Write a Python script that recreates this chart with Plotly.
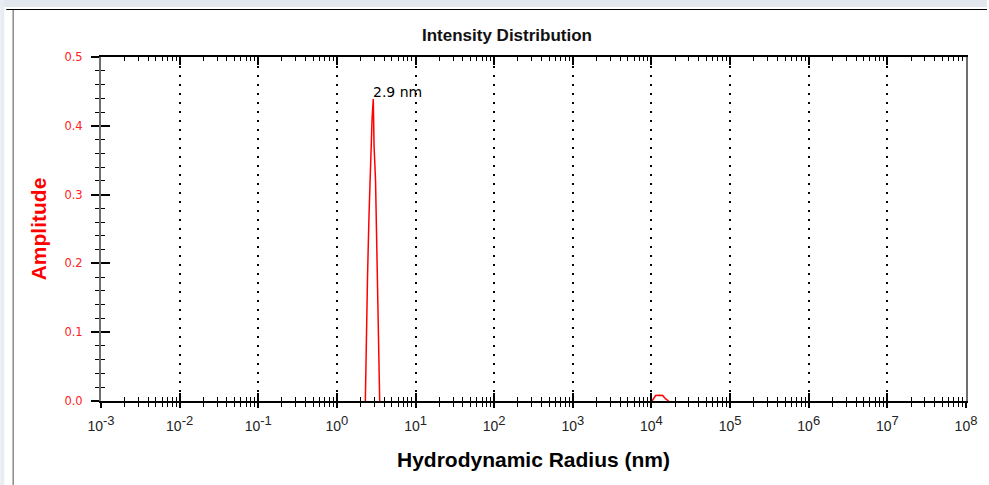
import math
import plotly.graph_objects as go

# ---- data ----
peak1_radius = [2.30, 2.34, 2.45, 2.56, 2.68, 2.80, 2.90, 2.97, 3.10, 3.22, 3.35, 3.50]
peak1_amp = [0.0, 0.06, 0.18, 0.27, 0.35, 0.41, 0.439, 0.37, 0.32, 0.22, 0.07, 0.0]
peak2_radius = [10180, 10700, 11300, 12530, 13890, 15160, 16550]
peak2_amp = [0.0, 0.004, 0.008, 0.0085, 0.008, 0.003, 0.0]
peak_label_radius = 2.90
peak_label_amp = 0.439
peak_label_text = "2.9 nm"
x_tick_exponents = [-3, -2, -1, 0, 1, 2, 3, 4, 5, 6, 7, 8]
y_ticks = [0.0, 0.1, 0.2, 0.3, 0.4, 0.5]

xs = peak1_radius + [None] + peak2_radius
ys = peak1_amp + [None] + peak2_amp
x_tickvals = [10.0 ** e for e in x_tick_exponents]
x_ticktext = ["10<sup><span style='font-size:13px'>%d</span></sup>" % e
              for e in x_tick_exponents]

FONT = "Liberation Sans, Arial, sans-serif"
WIDE = "DejaVu Sans, Verdana, sans-serif"
W, H = 989, 485
L, R, T, B = 101, 21, 57, 84
PW, PH = W - L - R, H - T - B

def px(x):
    return (x - L) / PW

def py(y):
    return (H - B - y) / PH

fig = go.Figure()
fig.add_trace(go.Scatter(x=xs, y=ys, mode="lines",
                         line=dict(color="#ff0000", width=1.5),
                         showlegend=False, hoverinfo="skip",
                         xaxis="x", yaxis="y"))
# helper trace binding the overlay axes (used for inner tick marks)
fig.add_trace(go.Scatter(x=xs, y=ys, mode="lines", opacity=0,
                         line=dict(color="#ff0000", width=1),
                         showlegend=False, hoverinfo="skip",
                         xaxis="x2", yaxis="y2"))

fig.update_layout(
    width=W, height=H,
    margin=dict(l=L, r=R, t=T, b=B),
    paper_bgcolor="white", plot_bgcolor="white",
    font=dict(family=FONT, color="black"),
    title=dict(text="<b>Intensity Distribution</b>", x=507 / W, xref="container",
               xanchor="center", y=1 - 35 / H, yref="container", yanchor="middle",
               font=dict(size=17, color="#111111", family=FONT)),
    xaxis=dict(type="log", range=[-3, 8], tickvals=x_tickvals, ticktext=x_ticktext,
               ticks="outside", ticklen=5, tickwidth=1.5, tickcolor="black",
               ticklabelstandoff=6,
               minor=dict(ticks="outside", ticklen=4, tickwidth=1.2,
                          tickcolor="black", dtick="D1", showgrid=False),
               showline=True, linecolor="black", linewidth=2, mirror=True,
               showgrid=True, gridcolor="black", gridwidth=1.5,
               griddash="2px,7px", zeroline=False,
               tickfont=dict(size=14, color="#222222", family=FONT),
               title=dict(text="<b>Hydrodynamic Radius (nm)</b>", standoff=20,
                          font=dict(size=21, color="black", family=FONT))),
    xaxis2=dict(type="log", range=[-3, 8], tickvals=x_tickvals, overlaying="x",
                showticklabels=False,
                ticks="inside", ticklen=8, tickwidth=1.5, tickcolor="black",
                minor=dict(ticks="inside", ticklen=4, tickwidth=1.2,
                           tickcolor="black", dtick="D1", showgrid=False),
                showline=True, linecolor="black", linewidth=2, mirror="ticks",
                showgrid=False, zeroline=False),
    yaxis=dict(range=[0, 0.5], tickvals=y_ticks, tickformat=".1f",
               ticks="outside", ticklen=8, tickwidth=1.5, tickcolor="black",
               ticklabelstandoff=6,
               minor=dict(ticks="outside", ticklen=4, tickwidth=1.2,
                          tickcolor="black", dtick=0.02, showgrid=False),
               showline=True, linecolor="#6e6e6e", linewidth=2, mirror=True,
               showgrid=False, zeroline=False,
               tickfont=dict(size=11.5, color="#ff2020", family=WIDE),
               title=dict(text="<b>Amplitude</b>", standoff=12,
                          font=dict(size=21, color="#ff0000", family=FONT))),
    yaxis2=dict(range=[0, 0.5], tickvals=y_ticks, overlaying="y", side="left",
                showticklabels=False,
                ticks="inside", ticklen=9, tickwidth=1.5, tickcolor="black",
                minor=dict(ticks="inside", ticklen=4, tickwidth=1.2,
                           tickcolor="black", dtick=0.02, showgrid=False),
                showline=False, showgrid=False, zeroline=False),
    annotations=[dict(x=math.log10(peak_label_radius), y=peak_label_amp,
                      xref="x", yref="y", text=peak_label_text, showarrow=False,
                      xanchor="left", yanchor="bottom", yshift=-3, xshift=-2,
                      font=dict(size=14, color="black", family=WIDE))],
    shapes=[
        dict(type="rect", xref="paper", yref="paper", x0=px(0), x1=px(W),
             y0=py(7), y1=py(0), fillcolor="#e3e8ee", line=dict(width=0), layer="below"),
        dict(type="rect", xref="paper", yref="paper", x0=px(0), x1=px(4),
             y0=py(H), y1=py(0), fillcolor="#e8edf2", line=dict(width=0), layer="below"),
        dict(type="line", xref="paper", yref="paper", x0=px(6), x1=px(W),
             y0=py(9.5), y1=py(9.5), line=dict(color="black", width=1)),
        dict(type="line", xref="paper", yref="paper", x0=px(13), x1=px(13),
             y0=py(10), y1=py(H), line=dict(color="#8a8a8a", width=1.5)),
    ],
)

fig.write_html("out.html")
